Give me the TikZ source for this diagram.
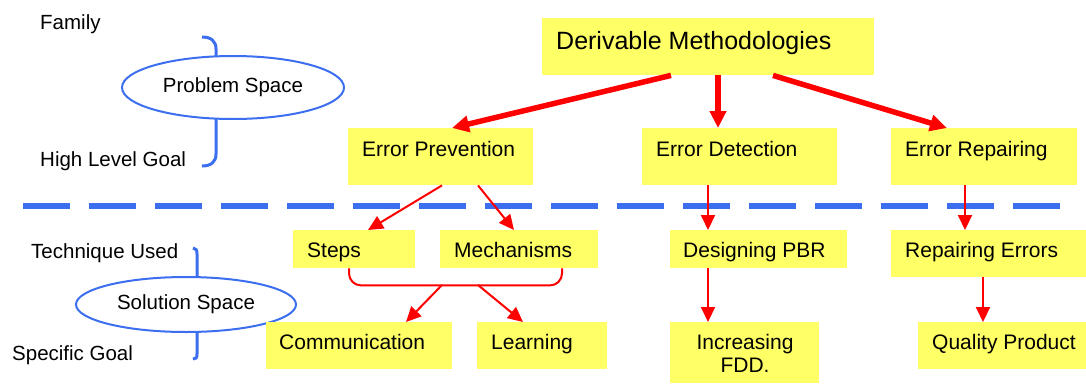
\documentclass[tikz,border=0pt]{standalone}
\usepackage{fontspec}
\setmainfont{Liberation Sans}
\usetikzlibrary{arrows.meta,shapes.geometric}
\definecolor{yell}{RGB}{255,255,102}
\definecolor{bluec}{RGB}{60,110,240}
\definecolor{redc}{RGB}{255,0,0}
\begin{document}
\begin{tikzpicture}[x=1pt,y=-1pt,
  box/.style 2 args={fill=yell, inner sep=0pt, minimum width=#1, minimum height=#2, anchor=north west},
  txt/.style={font=\fontsize{20.5}{23}\selectfont, inner sep=0pt, anchor=base west},
  boxtxt/.style={font=\fontsize{21}{23}\selectfont, inner sep=0pt, anchor=base west},
  bigtxt/.style={font=\fontsize{25}{30}\selectfont, inner sep=0pt, anchor=base west},
  space/.style={ellipse, draw=bluec, line width=2pt, fill=white, inner sep=0pt, font=\fontsize{20.5}{23}\selectfont},
  brace/.style={draw=bluec, line width=3pt},
  divider/.style={draw=bluec, line width=6pt, dash pattern=on 47pt off 19pt},
  thick/.style={draw=redc, line width=5.5pt, -{Triangle[length=17pt,width=16pt]}},
  thin/.style={draw=redc, line width=2pt, -{Triangle[length=15pt,width=14pt]}},
  bracket/.style={draw=redc, line width=2pt, rounded corners=12pt}]
\useasboundingbox (0,0) rectangle (1086,383);

% left labels
\node[txt] (family) at (40,29) {Family};
\node[txt] (hlg) at (40,166) {High Level Goal};
\node[txt] (tech) at (31,258) {Technique Used};
\node[txt] (sgoal) at (12,360) {Specific Goal};

% braces
\draw[brace] (202,37) .. controls (211,37) and (216,41) .. (216,49) -- (216,154) .. controls (216,162) and (211,166) .. (202,166);
\draw[brace] (193,248) .. controls (196,248) and (197,250) .. (197,254) -- (197,354) .. controls (197,358) and (196,359) .. (193,359);

% ellipses
\node[space, minimum width=222pt, minimum height=63pt] (ps) at (233,87.5) {Problem Space};
\node[space, minimum width=220pt, minimum height=55pt] (ss) at (186,304.5) {Solution Space};

% divider
\coordinate (dl) at (23,206);
\coordinate (dr) at (1060,206);
\draw[divider] (dl) -- (dr);

% boxes
\node[box={332pt}{57pt}] (dm) at (542,18) {};
\node[box={185pt}{57pt}] (ep) at (348,128) {};
\node[box={195pt}{57pt}] (ed) at (642,128) {};
\node[box={186pt}{57pt}] (er) at (891,128) {};
\node[box={122pt}{38pt}] (st) at (293,230) {};
\node[box={158pt}{38pt}] (me) at (440,230) {};
\node[box={177pt}{38pt}] (dp) at (670,230) {};
\node[box={195pt}{47pt}] (re) at (891,230) {};
\node[box={186pt}{47pt}] (co) at (266,322) {};
\node[box={130pt}{47pt}] (le) at (477,322) {};
\node[box={149pt}{61pt}] (in) at (670,322) {};
\node[box={168pt}{47pt}] (qp) at (918,322) {};

% box texts
\node[bigtxt] (tdm) at (556,49) {Derivable Methodologies};
\node[boxtxt] (tep) at (362,156) {Error Prevention};
\node[boxtxt] (ted) at (656,156) {Error Detection};
\node[boxtxt] (ter) at (905,156) {Error Repairing};
\node[boxtxt] (tst) at (307,257) {Steps};
\node[boxtxt] (tme) at (454,257) {Mechanisms};
\node[boxtxt] (tdp) at (683,257) {Designing PBR};
\node[boxtxt] (tre) at (905,257) {Repairing Errors};
\node[boxtxt] (tco) at (279,349) {Communication};
\node[boxtxt] (tle) at (491,349) {Learning};
\node[boxtxt, anchor=base] (tin) at (745,349) {\begin{tabular}[t]{@{}c@{}}Increasing\\FDD.\end{tabular}};
\node[boxtxt] (tqp) at (932,349) {Quality Product};

% thick arrows
\draw[thick] ([xshift=129pt]dm.south west) -- ([xshift=104pt]ep.north west);
\draw[thick] ([xshift=176pt]dm.south west) -- ([xshift=76pt]ed.north west);
\draw[thick] ([xshift=231pt]dm.south west) -- ([xshift=56pt]er.north west);

% thin arrows
\draw[thin] ([xshift=94pt]ep.south west) -- ([xshift=75pt]st.north west);
\draw[thin] ([xshift=130pt]ep.south west) -- ([xshift=74pt]me.north west);
\draw[thin] ([xshift=66pt]ed.south west) -- ([xshift=38pt]dp.north west);
\draw[thin] ([xshift=74pt]er.south west) -- ([xshift=74pt]re.north west);
\draw[thin] ([xshift=38pt]dp.south west) -- ([xshift=38pt]in.north west);
\draw[thin] ([xshift=92pt]re.south west) -- ([xshift=65pt]qp.north west);

% bracket joining Steps and Mechanisms
\draw[bracket] ([xshift=56pt]st.south west) -- ([xshift=56pt,yshift=-17pt]st.south west) -- ([xshift=122pt,yshift=-17pt]me.south west) -- ([xshift=122pt]me.south west);
\coordinate (bl) at (442,285);
\coordinate (br) at (478,285);
\draw[thin] (bl) -- ([xshift=140pt]co.north west);
\draw[thin] (br) -- ([xshift=46pt]le.north west);
\end{tikzpicture}
\end{document}
